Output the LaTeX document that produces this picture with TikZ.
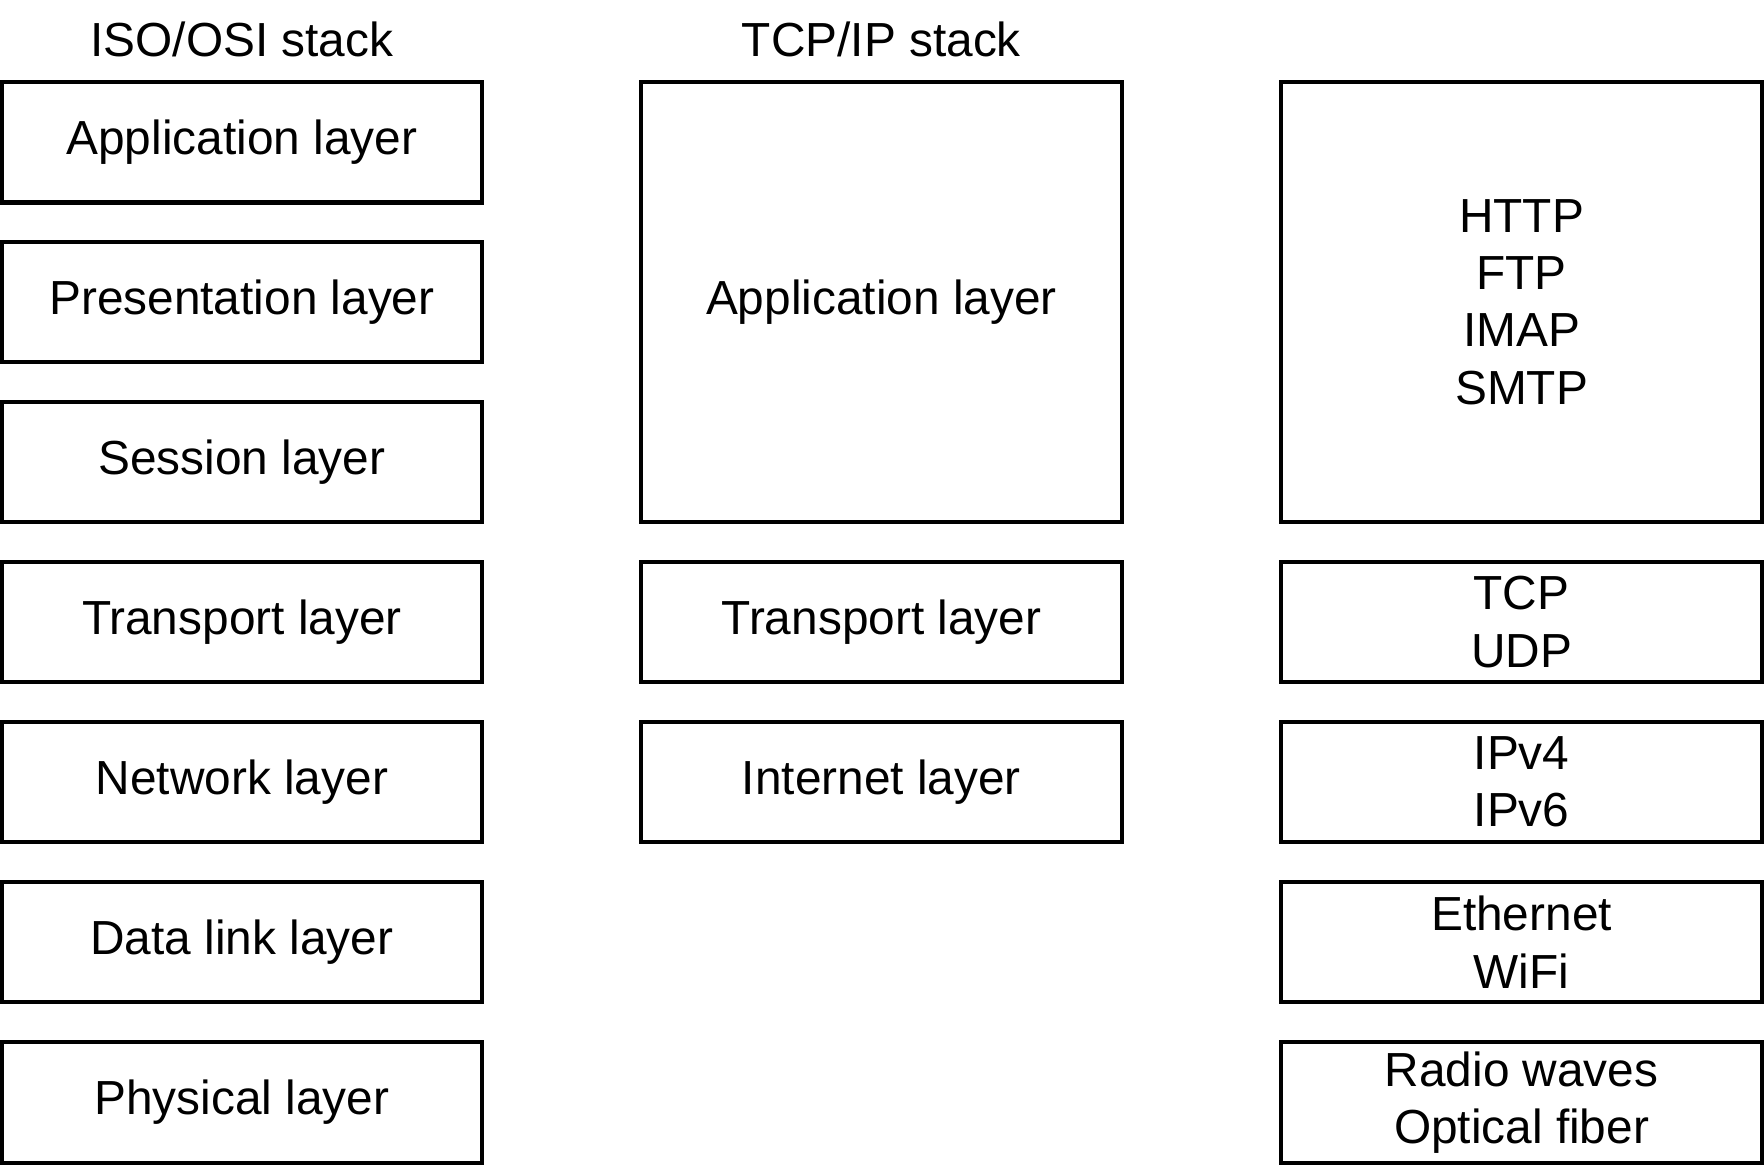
\documentclass[tikz,border=0pt]{standalone}
\usepackage{fontspec}
\setmainfont{Liberation Sans}
\begin{document}
\begin{tikzpicture}[x=1pt,y=-1pt,
  layerbox/.style={draw=black,line width=3.6pt,inner sep=0pt,minimum width=427pt,
    minimum height=107pt,align=center,font=\fontsize{42.5}{51}\selectfont},
  bigbox/.style={layerbox,minimum height=391pt},
  title/.style={inner sep=0pt,font=\fontsize{42.5}{51}\selectfont}]
\useasboundingbox (0,0) rectangle (1568,1035);
% titles
\node[title] (t1) at (215,35) {ISO/OSI stack};
\node[title] (t2) at (783.5,35) {TCP/IP stack};
% ISO/OSI column
\node[layerbox] (o1) at (215,126.5) {Application layer};
\node[layerbox] (o2) at (215,268.5) {Presentation layer};
\node[layerbox] (o3) at (215,410.5) {Session layer};
\node[layerbox] (o4) at (215,553) {Transport layer};
\node[layerbox] (o5) at (215,695) {Network layer};
\node[layerbox] (o6) at (215,837.5) {Data link layer};
\node[layerbox] (o7) at (215,980) {Physical layer};
% TCP/IP column
\node[bigbox] (p1) at (783.5,268.5) {Application layer};
\node[layerbox] (p2) at (783.5,553) {Transport layer};
\node[layerbox] (p3) at (783.5,695) {Internet layer};
% protocols column
\node[bigbox] (q1) at (1352.5,268.5) {HTTP\\FTP\\IMAP\\SMTP};
\node[layerbox] (q2) at (1352.5,553) {TCP\\UDP};
\node[layerbox] (q3) at (1352.5,695) {IPv4\\IPv6};
\node[layerbox] (q4) at (1352.5,837.5) {Ethernet\\WiFi};
\node[layerbox] (q5) at (1352.5,980) {Radio waves\\Optical fiber};
\end{tikzpicture}
\end{document}
